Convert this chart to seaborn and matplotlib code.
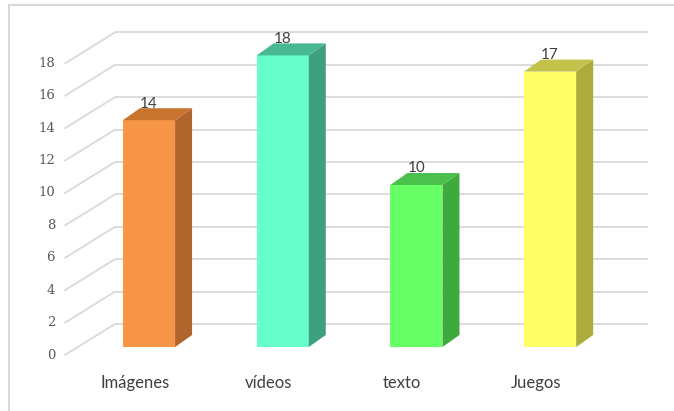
import numpy as np
import pandas as pd
import matplotlib
matplotlib.use("Agg")
import matplotlib.pyplot as plt
from matplotlib.patches import Polygon
from matplotlib.lines import Line2D
import seaborn as sns

# ---------- datos ----------
categorias = ["Imágenes", "vídeos", "texto", "Juegos"]
valores = [14, 18, 10, 17]
ticks_y = [0, 2, 4, 6, 8, 10, 12, 14, 16, 18]
col_frente = ["#F79646", "#66FFCC", "#66FF66", "#FFFF66"]
col_lado = ["#B0652C", "#3FA07F", "#3DAA3D", "#ADAB3A"]
col_tapa = ["#C8742F", "#47B88F", "#4CC04C", "#C4C24A"]

df = pd.DataFrame({"categoria": categorias, "valor": valores})

sns.set_style("white")
plt.rcParams["font.family"] = ["Lato", "DejaVu Sans"]

W, H = 674, 411
fig = plt.figure(figsize=(W / 100, H / 100), dpi=100)
ax = fig.add_axes([0, 0, 1, 1])

# barras (cara frontal) con seaborn
sns.barplot(data=df, x="categoria", y="valor", hue="categoria",
            palette=col_frente, width=0.39, legend=False, ax=ax,
            saturation=1, zorder=3, linewidth=0)

# escala: px por unidad
px_x = 133.7
px_y = 16.2
x0_px, y0_px = 149, 64  # categoria 0 / valor 0 (desde abajo)
ax.set_xlim(-x0_px / px_x, (W - x0_px) / px_x)
ax.set_ylim(-y0_px / px_y, (H - y0_px) / px_y)

# profundidades (en px -> unidades)
prof_dx, prof_dy = 17 / px_x, 12 / px_y         # grosor barra
pared_dx, pared_dy = 37 / px_x, 23 / px_y       # pared del fondo
frente_dx, frente_dy = -13 / px_x, -8 / px_y    # plano frontal (etiquetas)
x_izq_fondo = (115 - x0_px) / px_x
x_der_fondo = (648 - x0_px) / px_x
x_izq_frente = (65 - x0_px) / px_x

gris = "#D9D9D9"
for t in ticks_y:
    ax.plot([x_izq_fondo, x_der_fondo], [t + pared_dy, t + pared_dy],
            color=gris, lw=1.3, zorder=0, solid_capstyle="butt")
    ax.plot([x_izq_frente, x_izq_fondo], [t + frente_dy, t + pared_dy],
            color=gris, lw=1.3, zorder=0)
    ax.text((55 - x0_px) / px_x, t + frente_dy, str(t), ha="right",
            va="center", fontsize=9.5, color="#595959",
            family=["DejaVu Serif"])

# caras laterales y superiores
for i, p in enumerate(ax.patches[:len(valores)]):
    xa = p.get_x()
    xb = xa + p.get_width()
    v = p.get_height()
    lado = Polygon([(xb, 0), (xb + prof_dx, prof_dy), (xb + prof_dx, v + prof_dy), (xb, v)],
                   closed=True, facecolor=col_lado[i], edgecolor="none", zorder=3)
    tapa = Polygon([(xa, v), (xa + prof_dx, v + prof_dy), (xb + prof_dx, v + prof_dy), (xb, v)],
                   closed=True, facecolor=col_tapa[i], edgecolor="none", zorder=3)
    ax.add_patch(lado)
    ax.add_patch(tapa)
    ax.text(xa + p.get_width() / 2, v + prof_dy - 0.15, str(int(v)), ha="center",
            va="bottom", fontsize=11, color="#404040", zorder=4)

# etiquetas de categorias
for i, c in enumerate(categorias):
    ax.text(i - 0.105, -2.2, c, ha="center", va="center", fontsize=12,
            color="#404040")

ax.set_axis_off()

# marco del grafico
fig.add_artist(Line2D([9 / W, 9 / W], [0, 1 - 5 / H], transform=fig.transFigure,
                      color=gris, lw=1.5))
fig.add_artist(Line2D([9 / W, 1], [1 - 5 / H, 1 - 5 / H], transform=fig.transFigure,
                      color=gris, lw=1.5))

fig.savefig("out.png", dpi=100)
